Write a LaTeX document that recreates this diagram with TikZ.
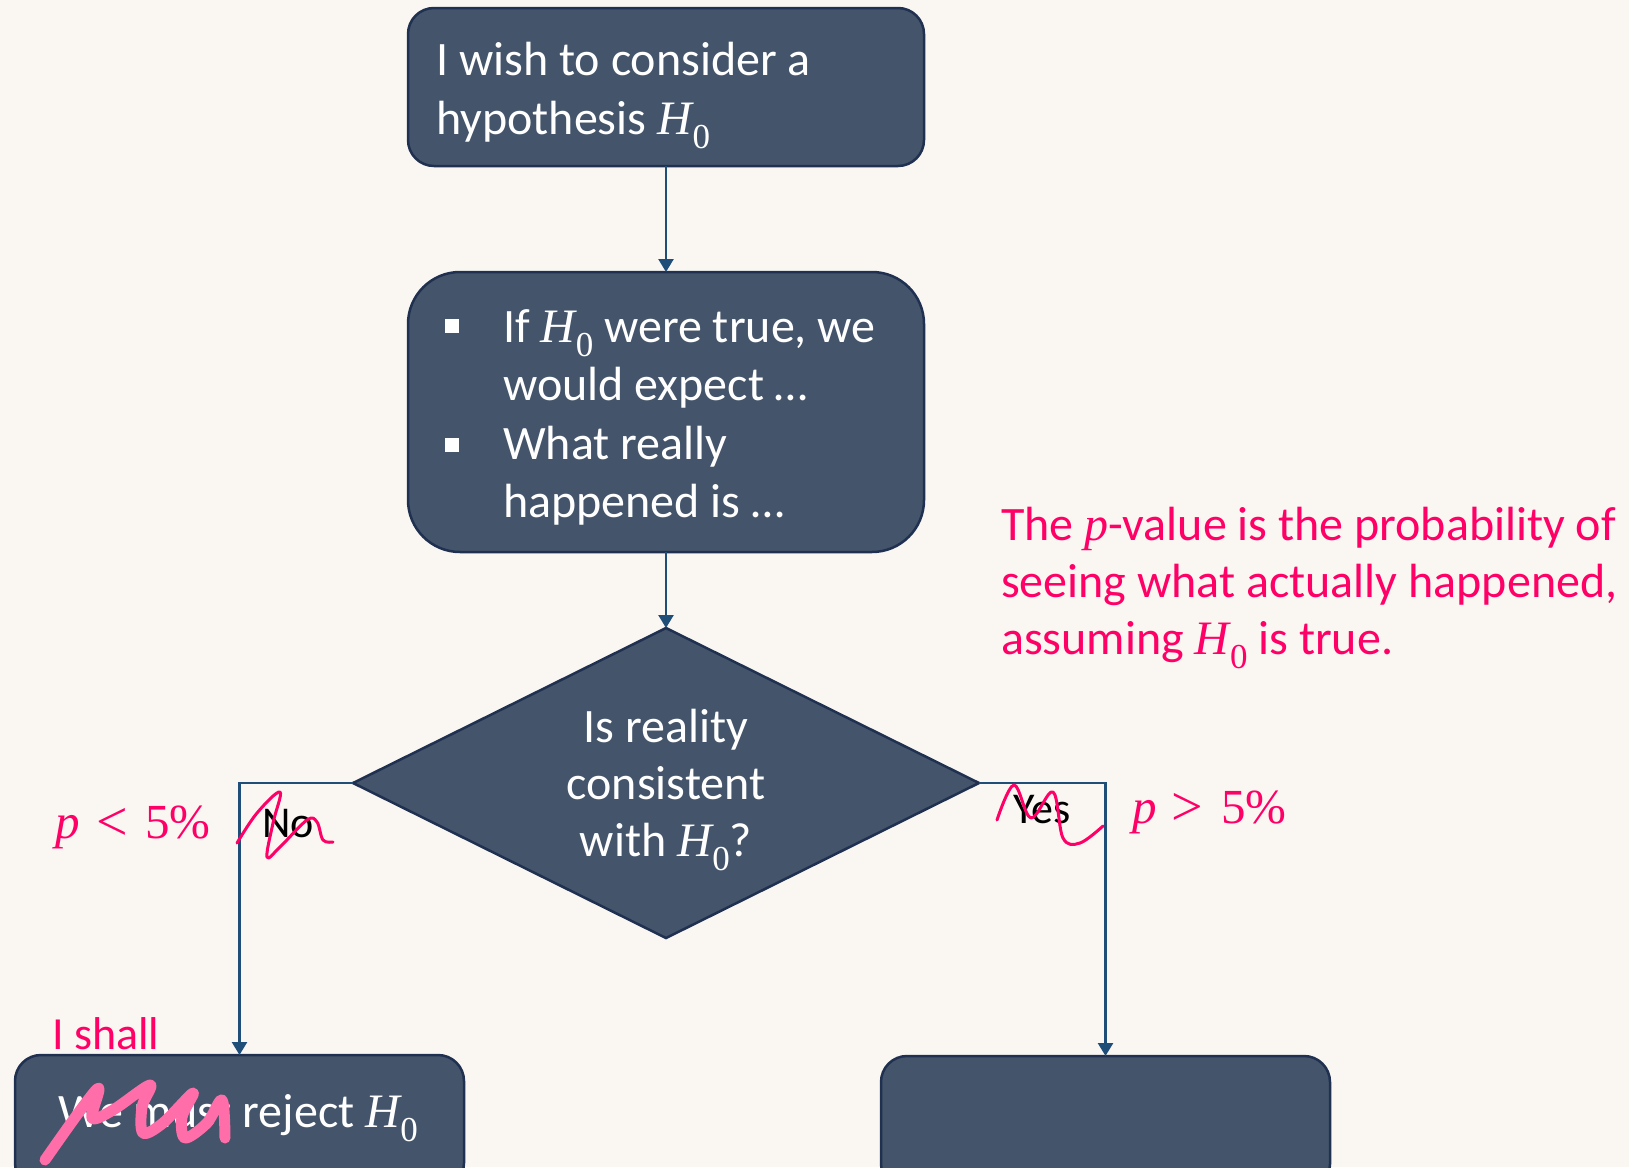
\documentclass[tikz,border=0pt]{standalone}
\usepackage{fontspec}
\setmainfont{Carlito}
\newfontfamily\mathfnt{Liberation Serif}
\newcommand{\Hnull}{{\mathfnt\itshape H}\kern0.01em\raisebox{-0.3em}{\mathfnt\fontsize{35}{35}\selectfont 0}}
\newcommand{\pvar}{{\mathfnt\itshape p}}
\newcommand{\bigrel}[1]{\raisebox{-2pt}{\fontsize{56}{56}\selectfont #1}}
\usetikzlibrary{shapes.geometric,arrows.meta}
\definecolor{bg}{HTML}{FAF7F3}
\definecolor{boxfill}{HTML}{44546A}
\definecolor{boxline}{HTML}{1F3050}
\definecolor{conn}{HTML}{1F4E79}
\definecolor{ink}{HTML}{FF0066}
\definecolor{inklight}{HTML}{FF6EA8}
\begin{document}
\begin{tikzpicture}[x=1pt,y=-1pt,
  box/.style={draw=boxline, line width=2.5pt, fill=boxfill, rectangle, inner sep=0pt, outer sep=0pt},
  wtxt/.style={anchor=base west, inner sep=0pt, text=white, font=\fontsize{48}{58}\selectfont},
  ctxt/.style={anchor=base, inner sep=0pt, text=white, font=\fontsize{48}{58}\selectfont},
  lbl/.style={anchor=base west, inner sep=0pt, text=black, font=\fontsize{44}{54}\selectfont},
  note/.style={anchor=base west, inner sep=0pt, text=ink, font=\fontsize{48}{58}\selectfont},
  mathnote/.style={anchor=base west, inner sep=0pt, text=ink, font=\mathfnt\fontsize{49}{58}\selectfont},
  bulletsq/.style={fill=white, minimum size=14pt, inner sep=0pt, rectangle},
  connarrow/.style={draw=conn, line width=2.5pt, -{Triangle[width=15pt,length=13pt]}},
  scribble/.style={draw=ink, line width=3pt, line cap=round, line join=round},
  scrawl/.style={draw=inklight, line width=11pt, line cap=round, line join=round}
]
\useasboundingbox (0,0) rectangle (1629,1167);
\fill[bg] (0,0) rectangle (1629,1167);
\begin{scope}
\clip (0,0) rectangle (1629,1167);

% boxes
\node[box, rounded corners=26pt, minimum width=516pt, minimum height=158pt] (b1) at (666,87) {};
\node[box, rounded corners=52pt, minimum width=516pt, minimum height=280pt] (b2) at (666,412) {};
\node[diamond, draw=boxline, line width=2.5pt, fill=boxfill, inner sep=0pt, outer sep=0pt,
      aspect=2.02, minimum width=626pt, minimum height=310pt] (dec) at (666,783) {};
\node[box, rounded corners=26pt, minimum width=449pt, minimum height=134pt] (b3) at (239.5,1122) {};
\node[box, rounded corners=26pt, minimum width=449pt, minimum height=134pt] (b4) at (1105.5,1123) {};

% connectors
\draw[connarrow] (b1.south) -- (b2.north);
\draw[connarrow] (b2.south) -- (dec.north);
\draw[connarrow] (dec.west) -| (b3.north);
\draw[connarrow] (dec.east) -| (b4.north);

% box texts
\node[wtxt] (t1a) at (436,75) {I wish to consider a};
\node[wtxt] (t1b) at (436,134) {hypothesis \Hnull};

\node[bulletsq] (q1) at (452,326) {};
\node[bulletsq] (q2) at (452,445) {};
\node[wtxt] (t2a) at (503,342) {If \Hnull\ were true, we};
\node[wtxt] (t2b) at (503,400) {would expect …};
\node[wtxt] (t2c) at (503,459) {What really};
\node[wtxt] (t2d) at (503,517) {happened is …};

\node[ctxt] (t3a) at (666,742) {Is reality};
\node[ctxt] (t3b) at (666,799) {consistent};
\node[ctxt] (t3c) at (666,856) {with \Hnull?};

\node[wtxt] (t4) at (58,1127) {We must reject \Hnull};

% labels
\node[lbl] (no) at (262,837) {No};
\node[lbl] (yes) at (1013,823) {Yes};

% pink annotations
\node[mathnote] (pl) at (55,838) {{\itshape p}\hspace{17pt}\bigrel{<}\hspace{17pt}5\%};
\node[mathnote] (pg) at (1132,823) {{\itshape p}\hspace{15pt}\bigrel{>}\hspace{18pt}5\%};
\node[note, font=\fontsize{46}{56}\selectfont] (ishall) at (52,1049) {I shall};
\node[note] (n1) at (1001,540) {The \pvar-value is the probability of};
\node[note] (n2) at (1001,597) {seeing what actually happened,};
\node[note] (n3) at (1001,654) {assuming \Hnull\ is true.};

% handwritten scribbles
\draw[scribble] plot[smooth, tension=0.6] coordinates {(237,843) (257,813) (280,792) (273,823) (267,857) (280,847) (307,820) (317,822) (323,840) (333,842)};
\draw[scribble] plot[smooth, tension=0.6] coordinates {(997,820) (1014,785) (1031,818) (1053,792) (1063,838) (1080,843) (1103,826)};
\draw[scrawl] plot[smooth, tension=0.55] coordinates {(45,1160) (97,1089) (92,1118) (113,1110) (150,1085) (142,1107) (143,1133) (163,1123) (193,1093) (182,1117) (185,1138) (207,1123) (222,1100) (225,1138)};
\end{scope}
\end{tikzpicture}
\end{document}
